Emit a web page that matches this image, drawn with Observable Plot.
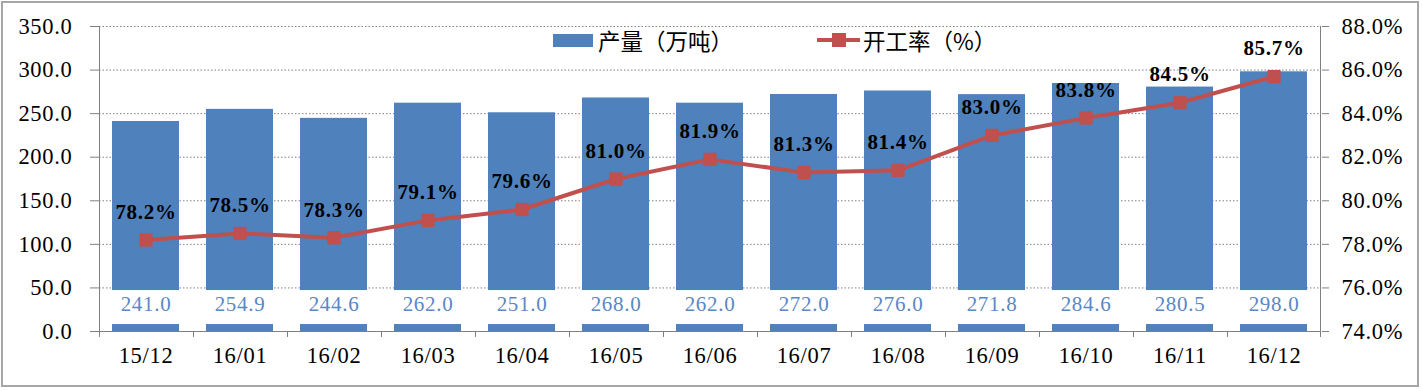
<!DOCTYPE html>
<html>
<head>
<meta charset="utf-8">
<script src="https://cdn.jsdelivr.net/npm/d3@7"></script>
<script src="https://cdn.jsdelivr.net/npm/@observablehq/plot@0.6"></script>
<style>
  html, body { margin: 0; padding: 0; background: #fff; }
  #wrap { position: relative; width: 1422px; height: 391px; }
  .frame { position: absolute; left: 1px; top: 1px; width: 1418px; height: 386px; border: 2px solid #a6a6a6; box-sizing: border-box; pointer-events: none; }
  .legend { position: absolute; top: 27px; font-family: "Noto Sans CJK SC", sans-serif; font-size: 22.5px; color: #000; display: flex; align-items: center; height: 26px; }
  .sw-bar { width: 40px; height: 13px; background: #4F81BD; margin-right: 5px; }
  .sw-line { position: relative; width: 43px; height: 14px; margin-right: 3px; }
  .sw-line::before { content: ""; position: absolute; left: 0; right: 0; top: 5px; height: 4px; background: #C0504D; }
  .sw-line::after { content: ""; position: absolute; left: 15px; top: 0; width: 14px; height: 14px; background: #C0504D; }
  #chart svg text { letter-spacing: 0.7px; }
</style>
</head>
<body>
<div id="wrap">
  <div id="chart"></div>
  <div class="legend" style="left:553px"><div class="sw-bar"></div>产量（万吨）</div>
  <div class="legend" style="left:817px"><div class="sw-line"></div>开工率（%）</div>
  <div class="frame"></div>
</div>
<script>
const months = ["15/12","16/01","16/02","16/03","16/04","16/05","16/06","16/07","16/08","16/09","16/10","16/11","16/12"];
const output = [241.0, 254.9, 244.6, 262.0, 251.0, 268.0, 262.0, 272.0, 276.0, 271.8, 284.6, 280.5, 298.0];
const rate = [78.2, 78.5, 78.3, 79.1, 79.6, 81.0, 81.9, 81.3, 81.4, 83.0, 83.8, 84.5, 85.7];
const leftTicks = [0, 50, 100, 150, 200, 250, 300, 350];
const rightTicks = [74, 76, 78, 80, 82, 84, 86, 88];

const rMin = 74, rMax = 88, lMax = 350;
const toLeft = p => (p - rMin) / (rMax - rMin) * lMax;
const toRight = v => rMin + v / lMax * (rMax - rMin);

const data = months.map((m, i) => ({ month: m, output: output[i], rate: rate[i], rateY: toLeft(rate[i]) }));

const serif = "'Liberation Serif', 'Times New Roman', serif";

const chart = Plot.plot({
  width: 1422,
  height: 391,
  marginLeft: 99,
  marginRight: 101,
  marginTop: 26,
  marginBottom: 60,
  style: { fontFamily: serif, background: "transparent", overflow: "visible" },
  x: { domain: months, paddingInner: 0.287, paddingOuter: 0.1435, label: null, axis: null },
  y: { domain: [0, lMax], label: null },
  marks: [
    Plot.ruleY(leftTicks.filter(d => d > 0), { stroke: "#808080", strokeDasharray: "1.5,2", strokeWidth: 1 }),
    Plot.barY(data, { x: "month", y: "output", fill: "#4F81BD" }),
    Plot.barY(data, { x: "month", y1: () => 8, y2: () => 47, fill: "#fff" }),
    Plot.text(data, { x: "month", frameAnchor: "bottom", dy: -21, text: d => d.output.toFixed(1), fill: "#5B87C5", fontSize: 21, fontFamily: serif }),
    Plot.line(data, { x: "month", y: "rateY", stroke: "#C0504D", strokeWidth: 4 }),
    Plot.dot(data, { x: "month", y: "rateY", symbol: "square", r: 7.5, fill: "#C0504D", stroke: "none" }),
    Plot.text(data, { x: "month", y: "rateY", dy: -28, text: d => d.rate.toFixed(1) + "%", fontWeight: "bold", fontSize: 21, fill: "#000", fontFamily: serif }),
    Plot.axisY({ anchor: "left", ticks: leftTicks, tickFormat: d => d.toFixed(1), tickSize: 9, tickPadding: 18, fontSize: 22.5, stroke: "#808080", color: "#000", label: null }),
    Plot.axisY({ anchor: "right", ticks: rightTicks.map(toLeft), tickFormat: d => toRight(d).toFixed(1) + "%", tickSize: 7, tickPadding: 13, fontSize: 22.5, stroke: "#808080", color: "#000", label: null }),
    Plot.text(data, { x: "month", frameAnchor: "bottom", dy: 31, text: "month", fontSize: 22.5, fill: "#000", fontFamily: serif }),
    Plot.ruleY([0], { stroke: "#808080", strokeWidth: 1 })
  ]
});

const xs = chart.scale("x");
document.getElementById("chart").appendChild(chart);

const svg = d3.select(chart);
const pLeft = 99, pRight = 1422 - 101, pTop = 26, pBottom = 391 - 60;
const g = svg.append("g").attr("stroke", "#808080").attr("stroke-width", 1);
g.append("line").attr("x1", pLeft + 0.5).attr("x2", pLeft + 0.5).attr("y1", pTop).attr("y2", pBottom);
g.append("line").attr("x1", pRight - 0.5).attr("x2", pRight - 0.5).attr("y1", pTop).attr("y2", pBottom);
const gap = xs.step - xs.bandwidth;
months.forEach(m => {
  const xb = Math.round(xs.apply(m) - gap / 2) + 0.5;
  g.append("line").attr("x1", xb).attr("x2", xb).attr("y1", pBottom).attr("y2", pBottom + 6);
});
g.append("line").attr("x1", pRight - 0.5).attr("x2", pRight - 0.5).attr("y1", pBottom).attr("y2", pBottom + 6);
</script>
</body>
</html>
